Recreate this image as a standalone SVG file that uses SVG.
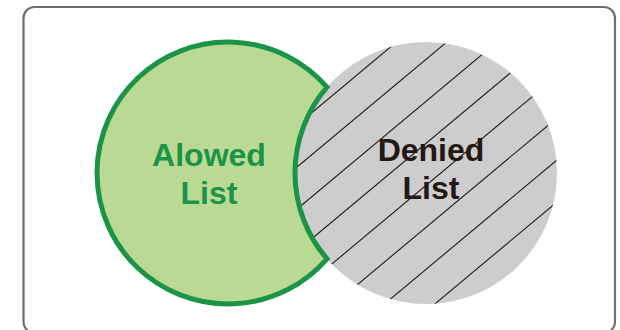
<svg xmlns="http://www.w3.org/2000/svg" width="620" height="330" viewBox="0 0 620 330">
  <style>
    .frame { fill: #ffffff; stroke: #6e6e6e; stroke-width: 2.2; }
    .label { font-family: "Liberation Sans", Arial, sans-serif; font-weight: bold; font-size: 32px; text-anchor: middle; }
    .hatch { stroke: #231815; stroke-width: 1.1; }
  </style>
  <defs>
    <clipPath id="grayClip">
      <circle cx="426" cy="173" r="131"/>
    </clipPath>
  </defs>
  <rect class="frame" x="23.5" y="7" width="591.5" height="326" rx="11" ry="11"/>

  <g id="denied">
    <circle cx="426" cy="173" r="131" fill="#cdcdcd"/>
    <g clip-path="url(#grayClip)" class="hatch">
      <line x1="250" y1="164.3" x2="600" y2="-127.9"/>
      <line x1="250" y1="206.3" x2="600" y2="-85.9"/>
      <line x1="250" y1="248.3" x2="600" y2="-43.9"/>
      <line x1="250" y1="290.3" x2="600" y2="-1.9"/>
      <line x1="250" y1="332.3" x2="600" y2="40.1"/>
      <line x1="250" y1="374.3" x2="600" y2="82.1"/>
      <line x1="250" y1="416.3" x2="600" y2="124.1"/>
      <line x1="250" y1="458.3" x2="600" y2="166.1"/>
    </g>
  </g>

  <g id="allowed">
    <path d="M327,87.2 A131,131 0 1 0 327,258.8 A131,131 0 0 1 327,87.2 Z" fill="#bad994" stroke="#1b9447" stroke-width="5" stroke-linejoin="miter"/>
    <text class="label" x="209" y="166" fill="#1b9447">Alowed</text>
    <text class="label" x="209" y="203.5" fill="#1b9447">List</text>
  </g>

  <g id="denied-label">
    <text class="label" x="431" y="160.7" fill="#231815">Denied</text>
    <text class="label" x="431" y="199" fill="#231815">List</text>
  </g>
</svg>
